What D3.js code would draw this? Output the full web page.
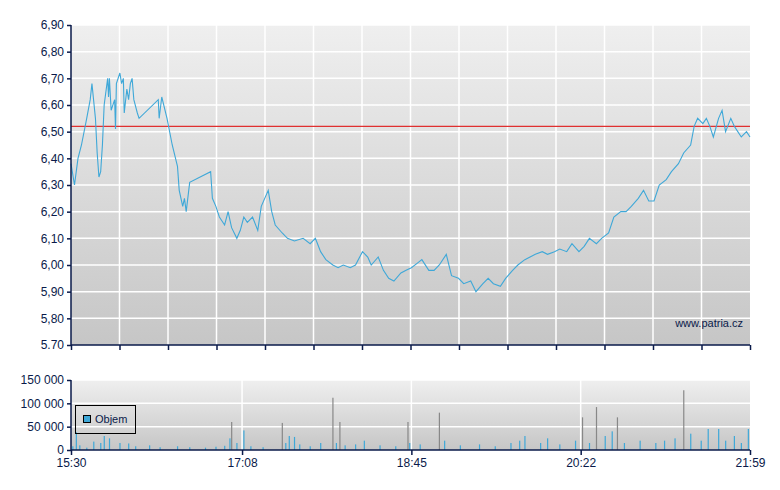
<!DOCTYPE html>
<html><head><meta charset="utf-8">
<script src="https://cdn.jsdelivr.net/npm/d3@7"></script>
<style>body{margin:0;background:#fff}text{font-family:"Liberation Sans",Arial,sans-serif;font-size:12px;fill:#0a1a4a}</style>
</head><body><svg id="c" width="780" height="490"></svg>
<script>
// minutes after 15:30 and price
var priceMin = [0,2,4,6,9,11,12,14,15,16,17,18,19,21,21.5,22,23,25,25.5,26,28,29,30,30.5,32,33,34,35,36,38,39,50,50.5,52,55,58,61,62,64,65,66,68,80,81,83,85,88,90,92,95,97,99,101,104,107,109,113,115,117,121,124,128,133,137,140,143,146,150,153,156,160,163,167,170,172,176,179,182,185,189,192,195,199,201,205,208,211,215,218,222,225,229,232,236,239,242,246,249,253,256,260,263,266,270,273,277,280,284,287,291,294,297,301,304,308,311,315,318,321,325,328,331,334,337,341,344,348,351,355,357,359,362,364,366,368,371,373,375,378,380,382,384,387,389];
var priceVal = [6.38,6.30,6.40,6.45,6.55,6.62,6.68,6.55,6.42,6.33,6.35,6.45,6.60,6.70,6.63,6.70,6.58,6.62,6.51,6.68,6.72,6.68,6.70,6.57,6.66,6.62,6.68,6.70,6.62,6.57,6.55,6.62,6.55,6.63,6.55,6.45,6.37,6.28,6.22,6.25,6.20,6.31,6.35,6.25,6.22,6.18,6.15,6.20,6.14,6.10,6.13,6.18,6.16,6.18,6.13,6.22,6.28,6.20,6.15,6.12,6.10,6.09,6.10,6.08,6.10,6.05,6.02,6.00,5.99,6.00,5.99,6.00,6.05,6.03,6.00,6.03,5.98,5.95,5.94,5.97,5.98,5.99,6.01,6.02,5.98,5.98,6.00,6.04,5.96,5.95,5.93,5.94,5.90,5.93,5.95,5.93,5.92,5.95,5.98,6.00,6.02,6.03,6.04,6.05,6.04,6.05,6.06,6.05,6.08,6.05,6.07,6.10,6.08,6.10,6.12,6.18,6.20,6.20,6.22,6.25,6.28,6.24,6.24,6.30,6.32,6.35,6.38,6.42,6.45,6.52,6.55,6.53,6.55,6.52,6.48,6.55,6.58,6.50,6.55,6.52,6.50,6.48,6.50,6.48];
var volMin = [1,3,5,9,13,17,19,22,28,33,37,45,51,61,68,77,83,88,91,92,95,99,103,110,121,123,125,128,131,137,143,150,152,154,157,163,168,177,186,193,194,200,211,214,223,234,243,252,257,260,269,273,280,289,293,297,301,306,310,313,317,326,335,340,346,351,355,361,365,371,375,380,384,388];
var volVal = [8000,38000,10000,5000,18000,15000,30000,25000,15000,14000,8000,10000,6000,8000,6000,5000,7000,9000,25000,60000,15000,42000,8000,6000,58000,15000,30000,28000,12000,8000,15000,112000,15000,60000,10000,12000,20000,10000,8000,60000,15000,12000,80000,20000,10000,12000,8000,15000,20000,30000,15000,25000,12000,20000,70000,15000,92000,30000,40000,70000,15000,20000,15000,20000,25000,128000,35000,20000,45000,45000,20000,30000,15000,45000];
var refPrice = 6.52;
var priceTicks = [5.70,5.80,5.90,6.00,6.10,6.20,6.30,6.40,6.50,6.60,6.70,6.80,6.90];
var volTicks = [0,50000,100000,150000];
var timeTicks = [0,98,195,292,389];
var timeLabels = ["15:30","17:08","18:45","20:22","21:59"];

var svg = d3.select("#c");
var L = 71, R = 750, axisCol = "#0a1a4a";
var x = d3.scaleLinear().domain([0,389]).range([L,R]);
var y = d3.scaleLinear().domain([5.70,6.90]).range([345,25]);
var yv = d3.scaleLinear().domain([0,150000]).range([450,380]);

var defs = svg.append("defs");
var g1 = defs.append("linearGradient").attr("id","bg").attr("x1",0).attr("y1",0).attr("x2",0).attr("y2",1);
g1.append("stop").attr("offset","0").attr("stop-color","#efefef");
g1.append("stop").attr("offset","1").attr("stop-color","#c6c6c6");

svg.append("rect").attr("x",L).attr("y",25).attr("width",R-L).attr("height",320).attr("fill","url(#bg)");
svg.append("rect").attr("x",L).attr("y",380).attr("width",R-L).attr("height",70).attr("fill","url(#bg)");

// price grid
var vgrid = d3.range(1,14).map(i => 389*i/14);
svg.selectAll(".vg").data(vgrid).enter().append("line")
  .attr("x1",d=>x(d)).attr("x2",d=>x(d)).attr("y1",25).attr("y2",345).attr("stroke","#fff").attr("stroke-width",1.5);
svg.selectAll(".hg").data(priceTicks.slice(1)).enter().append("line")
  .attr("x1",L).attr("x2",R).attr("y1",d=>y(d)).attr("y2",d=>y(d)).attr("stroke","#fff").attr("stroke-width",1.5);

// volume grid
svg.selectAll(".vvg").data(timeTicks.slice(1,4)).enter().append("line")
  .attr("x1",d=>x(d)).attr("x2",d=>x(d)).attr("y1",380).attr("y2",450).attr("stroke","#fff").attr("stroke-width",1.5);
svg.selectAll(".vhg").data(volTicks.slice(1)).enter().append("line")
  .attr("x1",L).attr("x2",R).attr("y1",d=>yv(d)).attr("y2",d=>yv(d)).attr("stroke","#fff").attr("stroke-width",1.5);

// red reference
svg.append("line").attr("x1",L).attr("x2",R).attr("y1",y(refPrice)).attr("y2",y(refPrice)).attr("stroke","#e03030").attr("stroke-width",1.2);

// price line
var pts = priceMin.map((m,i)=>[m,priceVal[i]]);
svg.append("path").datum(pts).attr("fill","none").attr("stroke","#3fa8d8").attr("stroke-width",1.1)
  .attr("d", d3.line().x(d=>x(d[0])).y(d=>y(d[1])));

// volume bars
svg.selectAll(".vb").data(volMin).enter().append("rect")
  .attr("x",d=>x(d)-0.5).attr("width",1.2)
  .attr("y",(d,i)=>yv(volVal[i])).attr("height",(d,i)=>450-yv(volVal[i]))
  .attr("fill",(d,i)=>volVal[i]>50000?"#888":"#3fa8d8");

// axes
var fmt = d => d3.format(".2f")(d).replace(".", d===5.70 ? "." : ",");
var ay = svg.append("g").attr("transform","translate("+L+",0)")
  .call(d3.axisLeft(y).tickValues(priceTicks).tickFormat(fmt).tickSize(4));
var av = svg.append("g").attr("transform","translate("+L+",0)")
  .call(d3.axisLeft(yv).tickValues(volTicks).tickFormat(d=>d3.format(",")(d).replace(/,/g," ")).tickSize(4));
var ax1 = svg.append("g").attr("transform","translate(0,345)")
  .call(d3.axisBottom(x).tickValues([0].concat(vgrid,[389])).tickFormat("").tickSize(5));
var ax2 = svg.append("g").attr("transform","translate(0,450)")
  .call(d3.axisBottom(x).tickValues(timeTicks).tickFormat((d,i)=>timeLabels[i]).tickSize(5));
[ay,av,ax1,ax2].forEach(a=>{a.selectAll("path,line").attr("stroke",axisCol).attr("stroke-width",1.5);a.select(".domain").attr("d",null);a.selectAll("text").attr("fill",axisCol).style("font-size","12px").style("font-family","Liberation Sans, Arial, sans-serif");});
svg.append("line").attr("x1",L).attr("x2",L).attr("y1",25).attr("y2",345).attr("stroke",axisCol).attr("stroke-width",1.5);
svg.append("line").attr("x1",L).attr("x2",R).attr("y1",345).attr("y2",345).attr("stroke",axisCol).attr("stroke-width",1.5);
svg.append("line").attr("x1",L).attr("x2",L).attr("y1",380).attr("y2",450).attr("stroke",axisCol).attr("stroke-width",1.5);
svg.append("line").attr("x1",L).attr("x2",R).attr("y1",450).attr("y2",450).attr("stroke",axisCol).attr("stroke-width",1.5);

// watermark
svg.append("text").attr("x",743).attr("y",327).attr("text-anchor","end").style("font-size","11px").text("www.patria.cz");

// legend
svg.append("rect").attr("x",75.5).attr("y",405.5).attr("width",60).attr("height",28).attr("fill","none").attr("stroke","#000");
svg.append("rect").attr("x",83.5).attr("y",415.5).attr("width",7).attr("height",7).attr("fill","#3fa8d8").attr("stroke","#000");
svg.append("text").attr("x",95).attr("y",423).style("font-size","11px").attr("fill","#000").text("Objem");
</script></body></html>
